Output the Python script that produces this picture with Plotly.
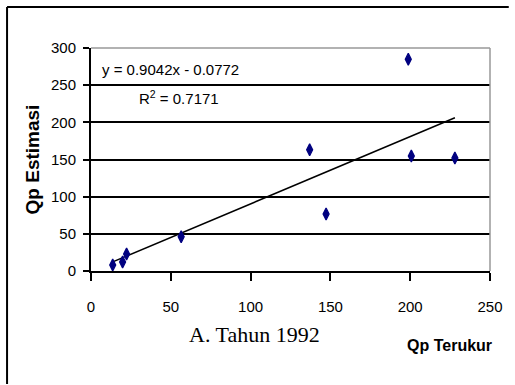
import plotly.graph_objects as go

# Data
qp_terukur = [13.6, 19.8, 22.3, 56.5, 137.0, 147.3, 198.8, 200.7, 228.0]
qp_estimasi = [8.0, 12.0, 23.0, 46.0, 163.0, 76.7, 285.0, 154.8, 152.0]
slope = 0.9042
intercept = -0.0772
x_ticks = [0, 50, 100, 150, 200, 250]
y_ticks = [0, 50, 100, 150, 200, 250, 300]

trend_x = [min(qp_terukur), max(qp_terukur)]
trend_y = [slope * v + intercept for v in trend_x]

sans = "Liberation Sans, Arial, sans-serif"

# plot area in page pixels
L, R, T, B = 91, 495, 48, 271
W, H = R - L, B - T


def px(x):
    return (x - L) / W


def py(y):
    return (B - y) / H


fig = go.Figure()
fig.add_trace(go.Scatter(x=trend_x, y=trend_y, mode="lines",
                         line=dict(color="black", width=1.5), showlegend=False))
fig.add_trace(go.Scatter(x=qp_terukur, y=qp_estimasi, mode="markers",
                         marker=dict(symbol="diamond-tall", size=8.5, color="#000080",
                                     line=dict(color="#000080", width=1.3)),
                         showlegend=False))

ann = dict(xref="paper", yref="paper", showarrow=False, xanchor="center", yanchor="middle")

fig.update_layout(
    width=515, height=385,
    margin=dict(l=L, r=515 - R, t=T, b=385 - B),
    paper_bgcolor="white", plot_bgcolor="white",
    font=dict(family=sans, color="black", size=15),
    xaxis=dict(range=[0, 250], tickvals=x_ticks, showgrid=False, zeroline=False,
               showline=True, linecolor="black", linewidth=2,
               ticks="outside", ticklen=8, tickwidth=1.5, tickcolor="black",
               ticklabelstandoff=13,
               tickfont=dict(family=sans, size=15)),
    yaxis=dict(range=[0, 300], tickvals=y_ticks, showgrid=True, gridcolor="black",
               gridwidth=1.5, zeroline=False,
               showline=True, linecolor="black", linewidth=2,
               ticks="outside", ticklen=6, tickwidth=1.5, tickcolor="black",
               ticklabelstandoff=4,
               tickfont=dict(family=sans, size=15),
               title=dict(text="<b>Qp Estimasi</b>", standoff=6,
                          font=dict(family=sans, size=19))),
    shapes=[
        dict(type="line", xref="paper", yref="paper", x0=0, x1=1, y0=1, y1=1,
             line=dict(color="#999999", width=1.5)),
        dict(type="line", xref="paper", yref="paper", x0=1, x1=1, y0=0, y1=1,
             line=dict(color="#999999", width=1.5)),
        dict(type="line", xref="paper", yref="paper",
             x0=px(6), x1=px(6), y0=py(384), y1=py(7),
             line=dict(color="black", width=2)),
        dict(type="line", xref="paper", yref="paper",
             x0=px(6), x1=px(514), y0=py(7), y1=py(7),
             line=dict(color="black", width=2)),
    ],
    annotations=[
        dict(text="y = 0.9042x - 0.0772", x=px(172), y=py(69),
             font=dict(family=sans, size=15), **ann),
        dict(text="R<sup>2</sup> = 0.7171", x=px(180), y=py(97),
             font=dict(family=sans, size=15), **ann),
        dict(text="A. Tahun 1992", x=px(257), y=py(334),
             font=dict(family="Liberation Serif, Times New Roman, serif", size=22), **ann),
        dict(text="<b>Qp Terukur</b>", x=px(454), y=py(345),
             font=dict(family=sans, size=16), **ann),
    ],
)

fig.write_html("out.html", config={"displayModeBar": False},
               post_script="document.body.style.margin='0px';")
